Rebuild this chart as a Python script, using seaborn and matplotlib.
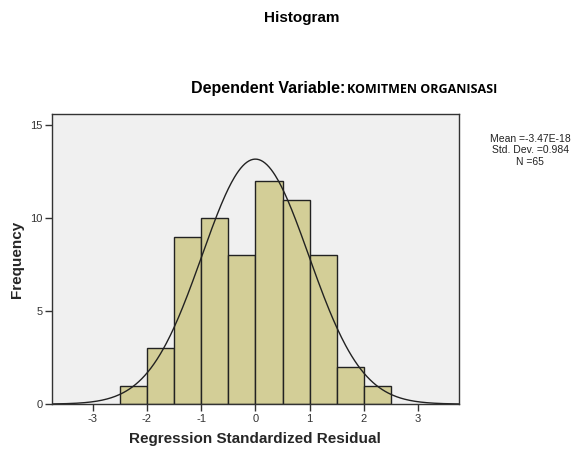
import numpy as np
import pandas as pd
import matplotlib
matplotlib.use('Agg')
import matplotlib.pyplot as plt
import seaborn as sns

# histogram bins
bin_edges = [-2.5, -2.0, -1.5, -1.0, -0.5, 0.0, 0.5, 1.0, 1.5, 2.0, 2.5]
counts = [1, 3, 9, 10, 8, 12, 11, 8, 2, 1]
mean = -3.47e-18
std = 0.984
n = 65

x_ticks = [-3, -2, -1, 0, 1, 2, 3]
y_ticks = [0, 5, 10, 15]

sns.set_style('white')
plt.rcParams['font.family'] = ['Liberation Sans', 'DejaVu Sans']

centers = [(a + b) / 2 for a, b in zip(bin_edges[:-1], bin_edges[1:])]
df = pd.DataFrame({'resid': centers, 'count': counts})

fig = plt.figure(figsize=(5.72, 4.49), dpi=100)
ax = fig.add_axes([0.091, 0.100, 0.711, 0.646])
ax.set_facecolor('#F0F0F0')

sns.histplot(data=df, x='resid', weights='count', bins=bin_edges,
             color='#D3CE97', alpha=1, edgecolor='#222222', linewidth=1.0, ax=ax)

# normal curve scaled to counts
width = bin_edges[1] - bin_edges[0]
xs = np.linspace(-3.75, 3.75, 400)
ys = n * width * np.exp(-0.5 * ((xs - mean) / std) ** 2) / (std * np.sqrt(2 * np.pi))
sns.lineplot(x=xs, y=ys, color='#222222', linewidth=1.0, ax=ax)

ax.set_xlim(-3.75, 3.75)
ax.set_ylim(0, 15.6)
ax.set_xticks(x_ticks)
ax.set_yticks(y_ticks)
ax.set_xticklabels([str(t) for t in x_ticks])
ax.tick_params(axis='both', direction='out', length=5, width=1, color='#333333',
               labelsize=8, labelcolor='#333333', pad=2, bottom=True, left=True)
for s in ax.spines.values():
    s.set_color('#333333')
    s.set_linewidth(1.0)

ax.set_xlabel('Regression Standardized Residual', fontsize=11, fontweight='bold', labelpad=6)
ax.set_ylabel('Frequency', fontsize=11, fontweight='bold', labelpad=4)

fig.text(0.528, 0.96, 'Histogram', ha='center', va='center', fontsize=11,
         fontweight='bold', color='black')
fig.text(0.604, 0.802, 'Dependent Variable:', ha='right', va='center', fontsize=11.5,
         fontweight='bold', color='black')
fig.text(0.607, 0.800, 'KOMITMEN ORGANISASI', ha='left', va='center', fontsize=9,
         fontweight='bold', family=['Open Sans', 'DejaVu Sans'], color='black')

stats = 'Mean =-3.47E-18\nStd. Dev. =0.984\nN =%d' % n
fig.text(0.927, 0.702, stats, ha='center', va='top', fontsize=7.5, linespacing=1.2,
         color='#222222')

fig.savefig('out.png', dpi=100)
